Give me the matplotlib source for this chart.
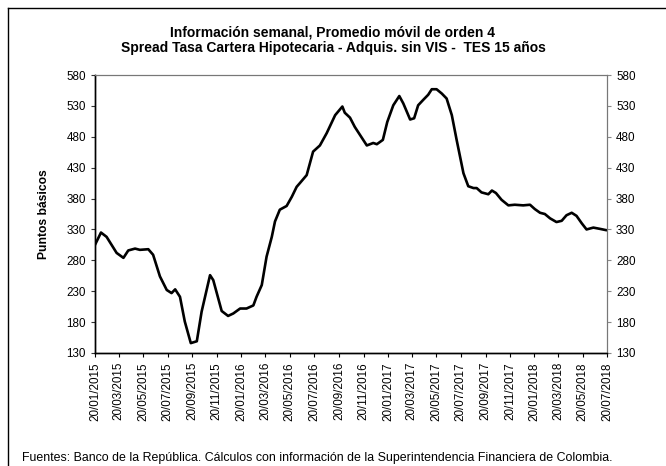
import matplotlib
matplotlib.use("Agg")
import matplotlib.pyplot as plt
import matplotlib.dates as mdates
from matplotlib.lines import Line2D
import numpy as np
import pandas as pd

plt.rcParams['font.family'] = ['Liberation Sans', 'DejaVu Sans']

# weekly spread (4-week moving average)
fechas = ["2015-01-20", "2015-02-04", "2015-02-18", "2015-03-15", "2015-04-01",
          "2015-04-13", "2015-04-30", "2015-05-12", "2015-06-02", "2015-06-14",
          "2015-07-01", "2015-07-18", "2015-07-30", "2015-08-08", "2015-08-20",
          "2015-09-01", "2015-09-16", "2015-10-01", "2015-10-13", "2015-11-03",
          "2015-11-11", "2015-12-02", "2015-12-18", "2015-12-31", "2016-01-17",
          "2016-02-02", "2016-02-19", "2016-02-27", "2016-03-11", "2016-03-23",
          "2016-04-05", "2016-04-13", "2016-04-25", "2016-05-12", "2016-05-25",
          "2016-06-06", "2016-06-14", "2016-07-01", "2016-07-17", "2016-08-03",
          "2016-08-20", "2016-09-10", "2016-09-28", "2016-10-04", "2016-10-17",
          "2016-10-29", "2016-11-11", "2016-11-28", "2016-12-14", "2016-12-23",
          "2017-01-07", "2017-01-18", "2017-02-02", "2017-02-17", "2017-02-27",
          "2017-03-16", "2017-03-26", "2017-04-05", "2017-04-18", "2017-04-30",
          "2017-05-09", "2017-05-21", "2017-06-03", "2017-06-15", "2017-06-28",
          "2017-07-10", "2017-07-27", "2017-08-08", "2017-08-21", "2017-08-29",
          "2017-09-10", "2017-09-27", "2017-10-06", "2017-10-16", "2017-10-30",
          "2017-11-16", "2017-12-02", "2017-12-23", "2018-01-09", "2018-01-21",
          "2018-02-03", "2018-02-15", "2018-02-28", "2018-03-16", "2018-03-29",
          "2018-04-10", "2018-04-23", "2018-05-05", "2018-05-18", "2018-05-30",
          "2018-06-16", "2018-07-02", "2018-07-17"]
spread = [305, 325, 318, 292, 284,
          296, 299, 297, 298, 289,
          254, 232, 227, 233, 221,
          181, 146, 149, 197, 256,
          248, 198, 190, 194, 202,
          202, 207, 221, 240, 286,
          318, 343, 362, 368, 383,
          399, 405, 418, 456, 466,
          486, 515, 529, 519, 511,
          496, 483, 466, 470, 468,
          475, 504, 531, 546, 534,
          508, 510, 531, 540, 548,
          557, 557, 550, 542, 515,
          475, 421, 400, 397, 397,
          390, 387, 393, 389, 378,
          369, 370, 369, 370, 363,
          357, 355, 348, 342, 344,
          353, 357, 352, 340, 330,
          333, 331, 329]

x = pd.to_datetime(fechas)
ticks = pd.date_range("2015-01-01", "2018-07-01", freq="2MS") + pd.Timedelta(days=19)
yticks = np.arange(130, 581, 50)

fig = plt.figure(figsize=(6.66, 4.66), dpi=100)
ax = fig.add_axes([0.1426, 0.2425, 0.7688, 0.5965])

ax.plot(x, spread, color='black', lw=1.9)

ax.set_xlim(pd.Timestamp("2015-01-20"), pd.Timestamp("2018-07-20"))
ax.set_ylim(130, 580)
ax.set_yticks(yticks)
ax.set_xticks(ticks)
ax.xaxis.set_major_formatter(mdates.DateFormatter("%d/%m/%Y"))
ax.tick_params(axis='x', labelrotation=90, labelsize=8.4, length=3, width=0.8)
ax.tick_params(axis='y', labelsize=8.4, length=3, width=0.8, colors='#333333')
ax.tick_params(axis='y', labelcolor='black')
ax.set_ylabel("Puntos básicos", fontsize=8.7, fontweight='bold', labelpad=12)

ax2 = ax.twinx()
ax2.set_ylim(130, 580)
ax2.set_yticks(yticks)
ax2.tick_params(axis='y', labelsize=8.4, length=3, width=0.8, colors='#888888')
ax2.tick_params(axis='y', labelcolor='black')

for a in (ax, ax2):
    a.spines['left'].set_color('black')
    a.spines['bottom'].set_color('black')
    a.spines['top'].set_color('#777777')
    a.spines['right'].set_color('#777777')
    a.spines['left'].set_linewidth(1.0)
    a.spines['bottom'].set_linewidth(1.0)
    a.spines['top'].set_linewidth(0.8)
    a.spines['right'].set_linewidth(0.8)

fig.text(0.5, 0.930, "Información semanal, Promedio móvil de orden 4",
         ha='center', va='center', fontsize=10, fontweight='bold')
fig.text(0.5, 0.898, "Spread Tasa Cartera Hipotecaria - Adquis. sin VIS -  TES 15 años",
         ha='center', va='center', fontsize=10, fontweight='bold')
fig.text(0.033, 0.017, "Fuentes: Banco de la República. Cálculos con información de la "
         "Superintendencia Financiera de Colombia.", ha='left', va='center', fontsize=8.9)

# partial frame around the figure (top and left edges)
fig.add_artist(Line2D([0.012, 1.0], [0.983, 0.983], color='black', lw=1.0,
                      transform=fig.transFigure))
fig.add_artist(Line2D([0.012, 0.012], [0.0, 0.983], color='black', lw=1.0,
                      transform=fig.transFigure))

fig.savefig("out.png", dpi=100)
